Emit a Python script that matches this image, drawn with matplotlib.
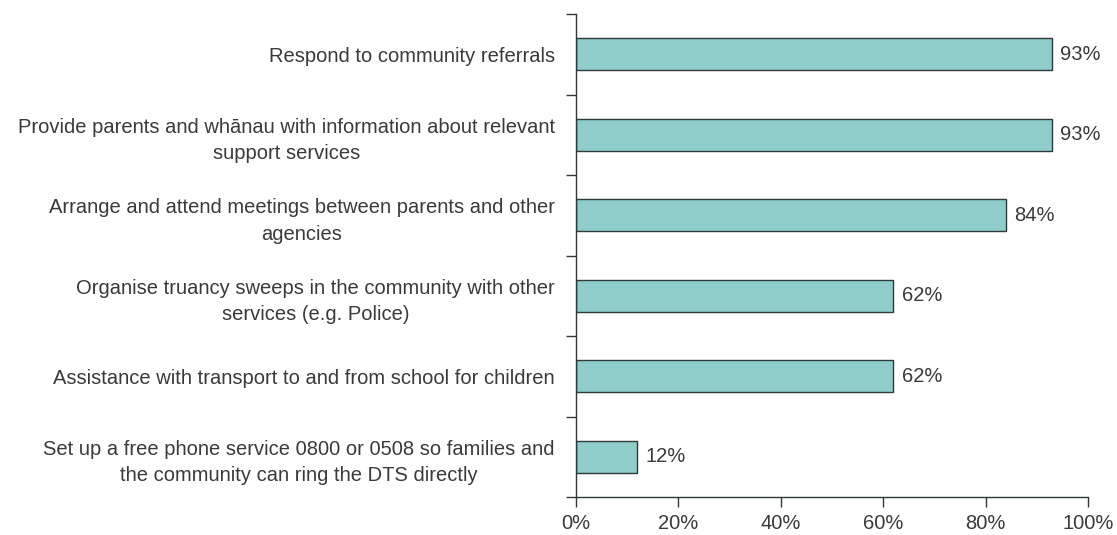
import numpy as np
import matplotlib.pyplot as plt
from matplotlib.ticker import FixedLocator, PercentFormatter

plt.rcParams['font.family'] = ['Liberation Sans', 'DejaVu Sans']

activities = [
    "Respond to community referrals",
    "Provide parents and wh\u0101nau with information about relevant\nsupport services",
    "Arrange and attend meetings between parents and other\nagencies",
    "Organise truancy sweeps in the community with other\nservices (e.g. Police)",
    "Assistance with transport to and from school for children",
    "Set up a free phone service 0800 or 0508 so families and\nthe community can ring the DTS directly",
]
percent = [93, 93, 84, 62, 62, 12]

text_col = '#3a3a3a'
line_col = '#2e3a3a'
fs = 14.5

fig = plt.figure(figsize=(11.17, 5.35), dpi=100)
ax = fig.add_axes([0.5154, 0.071, 0.4587, 0.9028])

y = np.arange(len(activities))
bars = ax.barh(y, percent, height=0.4, color='#8ecdc9', edgecolor=line_col, linewidth=1.0)

# value labels just past the end of each bar
for b, v in zip(bars, percent):
    ax.text(b.get_width() + 1.6, b.get_y() + b.get_height() / 2, f'{v}%',
            va='center', ha='left', fontsize=fs, color=text_col)

ax.set_xlim(0, 100)
ax.set_ylim(len(activities) - 0.5, -0.5)
ax.set_xticks(np.arange(0, 101, 20))
ax.xaxis.set_major_formatter(PercentFormatter(decimals=0))

# category names on major ticks, tick marks only between categories
ax.set_yticks(y)
ax.set_yticklabels(activities, ha='right', multialignment='center', linespacing=1.5)
ax.yaxis.set_minor_locator(FixedLocator(np.arange(-0.5, len(activities), 1)))
ax.tick_params(axis='y', which='major', length=0, pad=15, labelsize=fs, labelcolor=text_col)
ax.tick_params(axis='y', which='minor', length=7, width=1, color=line_col)
ax.tick_params(axis='x', length=7, width=1, color=line_col, pad=5, labelsize=fs, labelcolor=text_col)

for side in ['top', 'right']:
    ax.spines[side].set_visible(False)
for side in ['left', 'bottom']:
    ax.spines[side].set_color(line_col)
    ax.spines[side].set_linewidth(1)

fig.savefig('out.png', dpi=100)
